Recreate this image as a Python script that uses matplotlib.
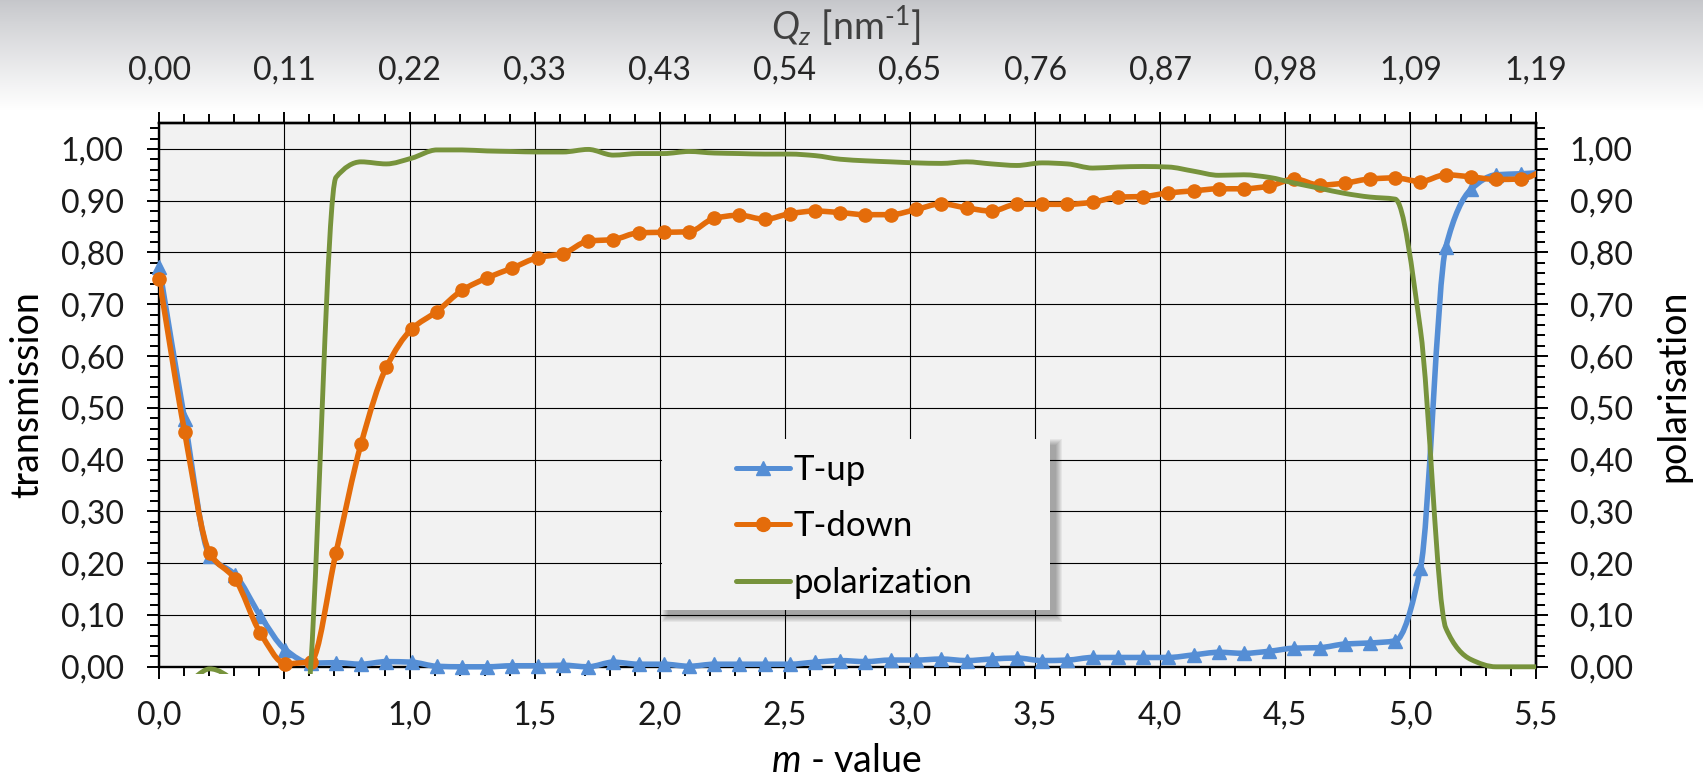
import numpy as np
import matplotlib
matplotlib.use("Agg")
import matplotlib.pyplot as plt
from matplotlib.path import Path
from matplotlib.patches import PathPatch, Rectangle
from matplotlib.lines import Line2D
from matplotlib.ticker import MultipleLocator, FixedLocator, FuncFormatter

plt.rcParams["font.family"] = ["Lato", "DejaVu Sans"]
plt.rcParams["mathtext.fontset"] = "custom"
plt.rcParams["mathtext.rm"] = "Lato"
plt.rcParams["mathtext.it"] = "Lato:italic"
plt.rcParams["mathtext.sf"] = "Lato"

# ---- data -------------------------------------------------------------
m_value = [0.000, 0.101, 0.202, 0.302, 0.403, 0.504, 0.605, 0.706, 0.806, 0.907,
           1.008, 1.109, 1.210, 1.310, 1.411, 1.512, 1.613, 1.714, 1.814, 1.915,
           2.016, 2.117, 2.218, 2.318, 2.419, 2.520, 2.621, 2.722, 2.822, 2.923,
           3.024, 3.125, 3.226, 3.326, 3.427, 3.528, 3.629, 3.730, 3.830, 3.931,
           4.032, 4.133, 4.234, 4.334, 4.435, 4.536, 4.637, 4.738, 4.838, 4.939,
           5.040, 5.141, 5.242, 5.342, 5.443, 5.544]

t_up = [0.772, 0.478, 0.214, 0.178, 0.099, 0.033, 0.007, 0.008, 0.005, 0.010,
        0.009, 0.001, 0.000, 0.000, 0.002, 0.002, 0.003, 0.000, 0.009, 0.005,
        0.005, 0.001, 0.005, 0.005, 0.005, 0.005, 0.009, 0.012, 0.010, 0.013,
        0.013, 0.015, 0.012, 0.015, 0.017, 0.012, 0.013, 0.018, 0.018, 0.018,
        0.018, 0.023, 0.028, 0.026, 0.030, 0.036, 0.037, 0.044, 0.046, 0.050,
        0.190, 0.810, 0.922, 0.950, 0.952, 0.955]

t_down = [0.748, 0.454, 0.219, 0.170, 0.066, 0.006, 0.010, 0.220, 0.430, 0.578,
          0.652, 0.686, 0.727, 0.751, 0.770, 0.790, 0.798, 0.822, 0.825, 0.838,
          0.839, 0.840, 0.866, 0.872, 0.864, 0.875, 0.880, 0.877, 0.873, 0.873,
          0.883, 0.894, 0.886, 0.880, 0.893, 0.893, 0.893, 0.897, 0.907, 0.908,
          0.915, 0.919, 0.923, 0.923, 0.928, 0.942, 0.930, 0.934, 0.942, 0.944,
          0.937, 0.950, 0.946, 0.941, 0.942, 0.962]

polarization = [-0.020, -0.030, -0.004, -0.030, -0.200, -0.600, 0.000, 0.945, 0.975, 0.971,
                0.982, 0.998, 0.998, 0.996, 0.995, 0.994, 0.994, 0.999, 0.988, 0.991,
                0.991, 0.995, 0.992, 0.991, 0.990, 0.990, 0.987, 0.980, 0.977, 0.975,
                0.973, 0.972, 0.975, 0.971, 0.968, 0.973, 0.971, 0.963, 0.965, 0.966,
                0.965, 0.957, 0.949, 0.950, 0.945, 0.934, 0.924, 0.914, 0.907, 0.903,
                0.650, 0.075, 0.014, 0.000, 0.000, 0.000]

qz_ticks_m = [0.0, 0.5, 1.0, 1.5, 2.0, 2.5, 3.0, 3.5, 4.0, 4.5, 5.0, 5.5]
qz_labels = ["0,00", "0,11", "0,22", "0,33", "0,43", "0,54",
             "0,65", "0,76", "0,87", "0,98", "1,09", "1,19"]

series_names = ["T-up", "T-down", "polarization"]
c_up, c_down, c_pol = "#558ED5", "#E46C0A", "#77933C"

# ---- figure geometry (pixels) ----------------------------------------
W, H = 1703, 778
fig = plt.figure(figsize=(W / 100, H / 100), dpi=100)


def fx(px):
    return px / W


def fy(py):
    return 1 - py / H


# soft grey band along the top edge
bg = fig.add_axes([0, 0, 1, 1], zorder=-10)
bg.axis("off")
rows = np.arange(H)
t = np.clip(rows / 110.0, 0, 1) ** 0.9
top = np.array([0.775, 0.78, 0.795])
grad = top[None, :] * (1 - t[:, None]) + 1.0 * t[:, None]
bg.imshow(grad[:, None, :], extent=[0, 1, 0, 1], aspect="auto", interpolation="bilinear")

L, R, T, B = 159.3, 1535.6, 123.0, 666.8
ax = fig.add_axes([fx(L), fy(B), (R - L) / W, (B - T) / H])
ax.set_facecolor("#f2f2f2")
ax.set_xlim(0, 5.5)
ax.set_ylim(0, 1.05)

comma1 = FuncFormatter(lambda v, p: f"{v:.1f}".replace(".", ","))
comma2 = FuncFormatter(lambda v, p: f"{v:.2f}".replace(".", ","))

ax.xaxis.set_major_locator(MultipleLocator(0.5))
ax.xaxis.set_minor_locator(MultipleLocator(0.1))
ax.xaxis.set_major_formatter(comma1)
ax.yaxis.set_major_locator(FixedLocator([i / 10 for i in range(11)]))
ax.yaxis.set_minor_locator(MultipleLocator(0.02))
ax.yaxis.set_major_formatter(comma2)

ax.grid(which="major", color="black", linewidth=0.8)
ax.set_axisbelow(True)

tick_font = 23
ax.tick_params(axis="x", which="major", direction="out", length=8.6, width=1.4,
               pad=16, labelsize=tick_font, labelcolor="#1a1a1a")
ax.tick_params(axis="y", which="major", direction="out", length=8.6, width=1.4,
               pad=17, labelsize=tick_font, labelcolor="#1a1a1a")
ax.tick_params(which="minor", direction="out", length=6.5, width=1.4)
for s in ax.spines.values():
    s.set_linewidth(1.7)
    s.set_zorder(2.6)

# top axis: Qz
secx = ax.secondary_xaxis("top")
secx.set_xticks(qz_ticks_m, labels=qz_labels)
secx.xaxis.set_minor_locator(MultipleLocator(0.1))
secx.tick_params(which="major", direction="out", length=8.0, width=1.4, pad=19,
                 labelsize=tick_font, labelcolor="#262626")
secx.tick_params(which="minor", direction="out", length=6.5, width=1.4)
secx.spines["top"].set_linewidth(1.7)

# right axis: polarisation
secy = ax.secondary_yaxis("right")
secy.yaxis.set_major_locator(FixedLocator([i / 10 for i in range(11)]))
secy.yaxis.set_minor_locator(MultipleLocator(0.02))
secy.yaxis.set_major_formatter(comma2)
secy.tick_params(which="major", direction="out", length=8.6, width=1.4, pad=16,
                 labelsize=tick_font, labelcolor="#1a1a1a")
secy.tick_params(which="minor", direction="out", length=6.5, width=1.4)
secy.spines["right"].set_linewidth(1.7)


# ---- smooth curves through the measured points ------------------------
def smooth_path(xs, ys):
    x = np.asarray(xs, float)
    y = np.asarray(ys, float)
    h = np.diff(x)
    d = np.diff(y) / h
    n = len(x)
    tan = np.zeros(n)
    for i in range(1, n - 1):
        if d[i - 1] * d[i] > 0:
            w1 = 2 * h[i] + h[i - 1]
            w2 = h[i] + 2 * h[i - 1]
            tan[i] = (w1 + w2) / (w1 / d[i - 1] + w2 / d[i])
    tan[0], tan[-1] = d[0], d[-1]
    verts = [(x[0], y[0])]
    codes = [Path.MOVETO]
    for i in range(n - 1):
        verts += [(x[i] + h[i] / 3, y[i] + tan[i] * h[i] / 3),
                  (x[i + 1] - h[i] / 3, y[i + 1] - tan[i + 1] * h[i] / 3),
                  (x[i + 1], y[i + 1])]
        codes += [Path.CURVE4] * 3
    return Path(verts, codes)


def draw_curve(ys, color, lw, z):
    patch = PathPatch(smooth_path(m_value, ys), facecolor="none", edgecolor=color,
                      linewidth=lw, capstyle="round", joinstyle="round", zorder=z)
    ax.add_patch(patch)
    clip = Rectangle((0, -0.013), 5.5, 1.1, transform=ax.transData)
    patch.set_clip_path(clip)


draw_curve(t_up, c_up, 4.0, 3)
draw_curve(t_down, c_down, 4.0, 4)
draw_curve(polarization, c_pol, 3.5, 5)

n_vis = sum(1 for v in m_value if v <= 5.5)
ax.plot(m_value[:n_vis], t_up[:n_vis], ls="none", marker="^", ms=9.5,
        color=c_up, zorder=3.5, clip_on=False)
ax.plot(m_value[:n_vis], t_down[:n_vis], ls="none", marker="o", ms=9.5,
        color=c_down, zorder=4.5, clip_on=False)

# ---- axis titles -----------------------------------------------------
title_font = 27
ax.set_xlabel(r"$m$ - value", fontsize=title_font, va="baseline", color="#000000")
ax.xaxis.set_label_coords((846 - L) / (R - L), -(772 - B) / (B - T))
ax.set_ylabel("transmission", fontsize=title_font, va="center", color="#000000")
ax.yaxis.set_label_coords((27 - L) / (R - L), 0.5)
fig.text(fx(1673), fy(386), "polarisation", rotation=90, fontsize=title_font,
         ha="center", va="center", color="#000000")
fig.text(fx(846), fy(40), r"$Q_z$ [nm$^{\text{-}1}$]", fontsize=title_font,
         ha="center", va="baseline", color="#404040")

# ---- legend box --------------------------------------------------------
lx0, ly0, lx1, ly1 = 662, 439, 1050, 610
for r in range(7):
    fig.add_artist(Rectangle((fx(lx0 + 6 - r), fy(ly1 + 6 + r)),
                             (lx1 - lx0 + 2 * r) / W, (ly1 - ly0 + 2 * r) / H,
                             transform=fig.transFigure, facecolor="black",
                             edgecolor="none", alpha=0.05, zorder=20))
fig.add_artist(Rectangle((fx(lx0), fy(ly1)), (lx1 - lx0) / W, (ly1 - ly0) / H,
                         transform=fig.transFigure, facecolor="#f2f2f2",
                         edgecolor="none", zorder=21))

legend_rows = [467.7, 524.0, 580.7]
legend_style = [(c_up, "^"), (c_down, "o"), (c_pol, None)]
for name, row, (col, mk) in zip(series_names, legend_rows, legend_style):
    fig.add_artist(Line2D([fx(736), fx(763), fx(790)], [fy(row)] * 3,
                          transform=fig.transFigure, color=col, linewidth=3.6,
                          solid_capstyle="round", marker=mk, markevery=[1],
                          markersize=10, zorder=22))
    fig.text(fx(794), fy(row + 12.5), name, fontsize=25, ha="left",
             va="baseline", color="#000000", zorder=23)

fig.savefig("out.png", dpi=100)
